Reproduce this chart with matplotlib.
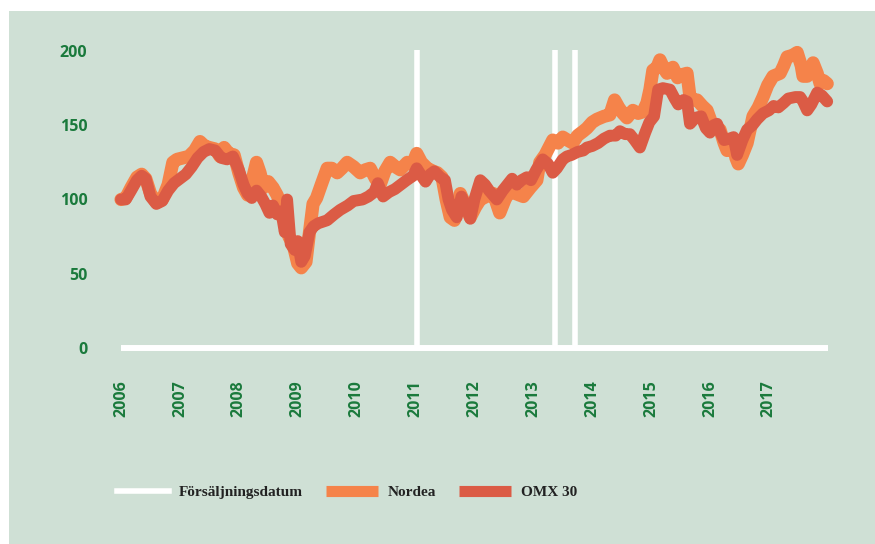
import matplotlib.pyplot as plt
from matplotlib.patches import Rectangle
from matplotlib.lines import Line2D

# --- data (decimal years, index 2006 = 100) ---
omx_t = [2006.00, 2006.08, 2006.17, 2006.27, 2006.35, 2006.42, 2006.50, 2006.60, 2006.70, 2006.80,
         2006.90, 2007.00, 2007.10, 2007.20, 2007.30, 2007.40, 2007.50, 2007.60, 2007.70, 2007.80,
         2007.90, 2008.00, 2008.08, 2008.15, 2008.22, 2008.30, 2008.38, 2008.45, 2008.52, 2008.58,
         2008.65, 2008.72, 2008.78, 2008.82, 2008.88, 2008.95, 2009.00, 2009.06, 2009.12, 2009.20,
         2009.27, 2009.35, 2009.50, 2009.62, 2009.72, 2009.85, 2009.95, 2010.10, 2010.20, 2010.30,
         2010.36, 2010.45, 2010.55, 2010.65, 2010.75, 2010.85, 2010.96, 2011.02, 2011.10, 2011.17,
         2011.25, 2011.32, 2011.42, 2011.50, 2011.56, 2011.62, 2011.70, 2011.78, 2011.86, 2011.93,
         2012.00, 2012.10, 2012.18, 2012.25, 2012.38, 2012.48, 2012.56, 2012.64, 2012.72, 2012.80,
         2012.89, 2012.96, 2013.05, 2013.16, 2013.25, 2013.33, 2013.40, 2013.50, 2013.57, 2013.65,
         2013.75, 2013.85, 2013.91, 2014.00, 2014.10, 2014.20, 2014.30, 2014.40, 2014.47, 2014.56,
         2014.64, 2014.72, 2014.81, 2014.90, 2014.97, 2015.05, 2015.12, 2015.20, 2015.32, 2015.40,
         2015.46, 2015.55, 2015.61, 2015.66, 2015.75, 2015.85, 2015.93, 2016.00, 2016.06, 2016.12,
         2016.18, 2016.24, 2016.33, 2016.40, 2016.46, 2016.55, 2016.63, 2016.72, 2016.80, 2016.90,
         2017.00, 2017.08, 2017.16, 2017.25, 2017.33, 2017.45, 2017.53, 2017.58, 2017.65, 2017.72,
         2017.82, 2017.90, 2017.99]
omx_v = [100, 100, 106, 113, 116, 114, 102, 97, 99, 106,
         111, 114, 117, 122, 128, 132, 134, 133, 128, 127,
         129, 120, 110, 104, 101, 106, 102, 97, 91, 96,
         90, 92, 78, 100, 70, 66, 72, 58, 62, 78,
         82, 84, 86, 90, 93, 96, 99, 100, 102, 105,
         111, 102, 105, 107, 110, 113, 116, 121, 116, 112,
         117, 119, 115, 113, 100, 93, 88, 102, 95, 87,
         100, 113, 110, 106, 100, 106, 110, 114, 110, 113,
         115, 113, 120, 127, 124, 118, 121, 127, 129, 130,
         132, 133, 135, 136, 138, 141, 143, 143, 146, 144,
         144, 140, 135, 145, 152, 156, 174, 175, 174, 168,
         164, 167, 166, 151, 155, 156, 148, 145, 150, 151,
         145, 140, 141, 142, 130, 140, 147, 150, 154, 158,
         160, 163, 162, 165, 168, 169, 169, 166, 160, 164,
         172, 170, 166]

nordea_t = [2006.00, 2006.08, 2006.17, 2006.27, 2006.35, 2006.42, 2006.50, 2006.60, 2006.70, 2006.80,
            2006.88, 2006.95, 2007.05, 2007.15, 2007.25, 2007.34, 2007.42, 2007.50, 2007.60, 2007.68,
            2007.75, 2007.83, 2007.92, 2008.00, 2008.08, 2008.15, 2008.22, 2008.30, 2008.36, 2008.42,
            2008.50, 2008.58, 2008.65, 2008.72, 2008.78, 2008.85, 2008.92, 2009.00, 2009.06, 2009.14,
            2009.20, 2009.26, 2009.32, 2009.40, 2009.50, 2009.58, 2009.67, 2009.75, 2009.84, 2009.95,
            2010.06, 2010.15, 2010.23, 2010.32, 2010.40, 2010.48, 2010.57, 2010.66, 2010.74, 2010.86,
            2010.95, 2011.02, 2011.10, 2011.20, 2011.30, 2011.37, 2011.45, 2011.52, 2011.59, 2011.66,
            2011.76, 2011.85, 2011.93, 2012.02, 2012.10, 2012.20, 2012.32, 2012.43, 2012.52, 2012.60,
            2012.70, 2012.83, 2012.95, 2013.06, 2013.11, 2013.20, 2013.33, 2013.42, 2013.50, 2013.58,
            2013.67, 2013.75, 2013.85, 2013.91, 2014.00, 2014.08, 2014.20, 2014.30, 2014.38, 2014.45,
            2014.52, 2014.59, 2014.69, 2014.78, 2014.86, 2014.93, 2014.98, 2015.03, 2015.10, 2015.15,
            2015.22, 2015.27, 2015.37, 2015.45, 2015.52, 2015.61, 2015.66, 2015.72, 2015.78, 2015.87,
            2015.95, 2016.05, 2016.12, 2016.17, 2016.24, 2016.29, 2016.39, 2016.44, 2016.48, 2016.55,
            2016.63, 2016.73, 2016.82, 2016.90, 2016.98, 2017.07, 2017.19, 2017.25, 2017.31, 2017.40,
            2017.48, 2017.55, 2017.58, 2017.65, 2017.70, 2017.75, 2017.82, 2017.87, 2017.93, 2017.99]
nordea_v = [100, 101, 108, 115, 117, 114, 104, 98, 100, 110,
            125, 127, 128, 129, 133, 139, 136, 135, 134, 129,
            135, 131, 130, 118, 108, 103, 112, 125, 118, 108,
            112, 108, 103, 96, 90, 75, 70, 57, 54, 58,
            78, 97, 101, 110, 121, 121, 118, 121, 125, 122,
            118, 120, 121, 114, 110, 119, 125, 122, 120, 125,
            124, 131, 125, 121, 119, 118, 115, 100, 88, 86,
            104, 96, 88, 95, 100, 102, 104, 91, 100, 106,
            104, 102, 108, 113, 125, 130, 140, 138, 142, 140,
            138, 143, 146, 148, 152, 154, 156, 157, 167, 162,
            158, 155, 160, 158, 159, 165, 174, 187, 189, 194,
            188, 185, 189, 182, 184, 185, 169, 167, 167, 163,
            160, 149, 148, 147, 138, 133, 138, 128, 124, 130,
            138, 156, 162, 169, 177, 183, 185, 190, 196, 197,
            199, 190, 183, 183, 187, 192, 185, 178, 180, 178]

sale_dates = [2011.02, 2013.36, 2013.70]
year_ticks = list(range(2006, 2018))
y_ticks = [0, 50, 100, 150, 200]

bg = '#cfe0d5'
orange = '#f5834a'
red = '#db5b45'
green = '#1a7a3c'

fig = plt.figure(figsize=(8.75, 5.44), dpi=100)
fig.patch.set_facecolor('white')
fig.patches.append(Rectangle((9 / 875, 0), 1, 1 - 11 / 544, transform=fig.transFigure,
                             facecolor=bg, edgecolor='none', zorder=-10))

W, H = 875, 544
ax = fig.add_axes([100 / W, 1 - 355 / H, 750 / W, 315 / H])
ax.set_facecolor('none')
for s in ax.spines.values():
    s.set_visible(False)

ax.set_xlim(2005.643, 2018.377)
ax.set_ylim(-4.71, 207.4)

# nollinje och försäljningsdatum
ax.plot([2006, 2018], [0, 0], color='white', lw=4.3, solid_capstyle='butt', zorder=1)
for d in sale_dates:
    ax.plot([d, d], [0, 201], color='white', lw=4, solid_capstyle='butt', zorder=1)

ax.plot(nordea_t, nordea_v, color=orange, lw=9.5, solid_capstyle='round',
        solid_joinstyle='round', zorder=2)
ax.plot(omx_t, omx_v, color=red, lw=8.5, solid_capstyle='round',
        solid_joinstyle='round', zorder=3)

ax.set_yticks(y_ticks)
ax.set_yticklabels([str(v) for v in y_ticks], fontsize=11.5, fontweight='bold',
                   color=green, family='Open Sans')
ax.set_xticks(year_ticks)
ax.set_xticklabels([str(y) for y in year_ticks], rotation=90, fontsize=11.5,
                   fontweight='bold', color=green, family='Open Sans')
ax.tick_params(axis='y', length=0, pad=9)
ax.tick_params(axis='x', length=0, pad=18)

handles = [Line2D([], [], color='white', lw=4),
           Line2D([], [], color=orange, lw=8, solid_capstyle='butt'),
           Line2D([], [], color=red, lw=8, solid_capstyle='butt')]
leg = fig.legend(handles, ['Försäljningsdatum', 'Nordea', 'OMX 30'], ncol=3,
                 loc='center left', bbox_to_anchor=(103 / W, 1 - 492 / H), frameon=False,
                 handlelength=3.45, handletextpad=0.6, columnspacing=1.5,
                 prop={'family': 'Liberation Serif', 'weight': 'bold', 'size': 11})
for t in leg.get_texts():
    t.set_color('#222222')

fig.savefig('out.png', dpi=100, facecolor='white')
